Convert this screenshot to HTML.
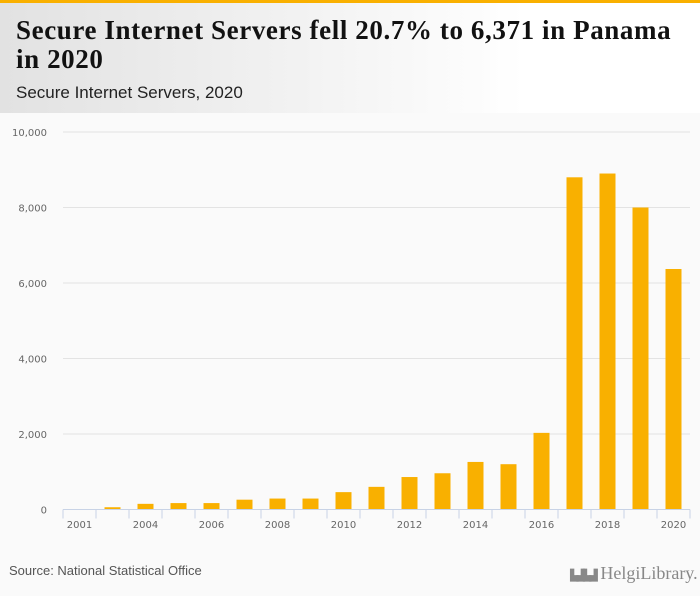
<!DOCTYPE html>
<html><head><meta charset="utf-8"><style>
body{margin:0;width:700px;height:596px;background:#fafafa;font-family:"Liberation Sans",sans-serif;overflow:hidden;position:relative}
#hdr{position:absolute;left:0;top:0;width:700px;height:113px;background:linear-gradient(90deg,#e2e2e2 0%,#f3f3f3 45%,#fff 75%);border-top:3px solid #f9b000;box-sizing:border-box}
#title{position:absolute;left:16px;top:13px;width:684px;font-family:"Liberation Serif",serif;font-weight:bold;font-size:27px;line-height:29px;color:#111;white-space:nowrap;letter-spacing:0.6px}
#sub{position:absolute;left:16px;top:80px;font-size:17px;color:#222}
#src{position:absolute;left:9px;top:563px;font-size:13px;color:#555}
#logo{position:absolute;left:570px;top:562px;font-size:18px;color:#888;font-family:"Liberation Serif",serif;white-space:nowrap;line-height:22px}
</style></head><body>
<div id="hdr">
<div id="title">Secure Internet Servers fell 20.7% to 6,371 in Panama<br>in 2020</div>
<div id="sub">Secure Internet Servers, 2020</div>
</div>
<svg id="chart" width="700" height="596" style="position:absolute;left:0;top:0"></svg>
<div id="src">Source: National Statistical Office</div>
<div id="logo"><span style="font-size:11px;letter-spacing:-2px;font-family:'DejaVu Sans',sans-serif">▙▟▙▟</span> HelgiLibrary.</div>
<script>
const categories=["2001","2003","2004","2005","2006","2007","2008","2009","2010","2011","2012","2013","2014","2015","2016","2017","2018","2019","2020"];
const values=[0,60,150,170,170,260,290,290,460,600,860,960,1260,1200,2030,8800,8900,8000,6371];
const yTicks=[0,2000,4000,6000,8000,10000];
const xLabels=["2001","2004","2006","2008","2010","2012","2014","2016","2018","2020"];
const NS="http://www.w3.org/2000/svg";
const svg=document.getElementById('chart');
const x0=63,x1=690,y0=509.5,yTop=132,yMax=10000;
const slot=(x1-x0)/categories.length;
const xs=i=>x0+slot*(i+0.5);
const ys=v=>y0-(y0-yTop)*v/yMax;
function mk(t,a){const e=document.createElementNS(NS,t);for(const k in a)e.setAttribute(k,a[k]);svg.appendChild(e);return e;}
yTicks.forEach(v=>{
 if(v>0){const g=mk('line',{x1:x0,x2:x1,y1:ys(v),y2:ys(v),stroke:'#e3e3e3','stroke-width':1});
 
 }
 const t=mk('text',{x:47,y:ys(v)+4,'text-anchor':'end','font-size':10,fill:'#666','font-family':'DejaVu Sans, sans-serif'});
 t.textContent=v.toLocaleString('en-US');
 
 
});
values.forEach((v,i)=>{
 if(v<=0)return;
 const r=mk('rect',{x:xs(i)-8,y:ys(v),width:16,height:y0-ys(v),fill:'#f9b000'});
 
 
});
const ax=mk('line',{x1:x0,x2:x1,y1:y0,y2:y0,stroke:'#c8d3e6','stroke-width':1});


for(let i=0;i<=categories.length;i++){
 const tk=mk('line',{x1:x0+slot*i,x2:x0+slot*i,y1:y0,y2:y0+9,stroke:'#c8d3e6','stroke-width':1});
 
 
}
xLabels.forEach(l=>{
 const i=categories.indexOf(l);
 const t=mk('text',{x:xs(i),y:528,'text-anchor':'middle','font-size':10,fill:'#666','font-family':'DejaVu Sans, sans-serif'});
 t.textContent=l;
 
 
});
</script>
</body></html>
